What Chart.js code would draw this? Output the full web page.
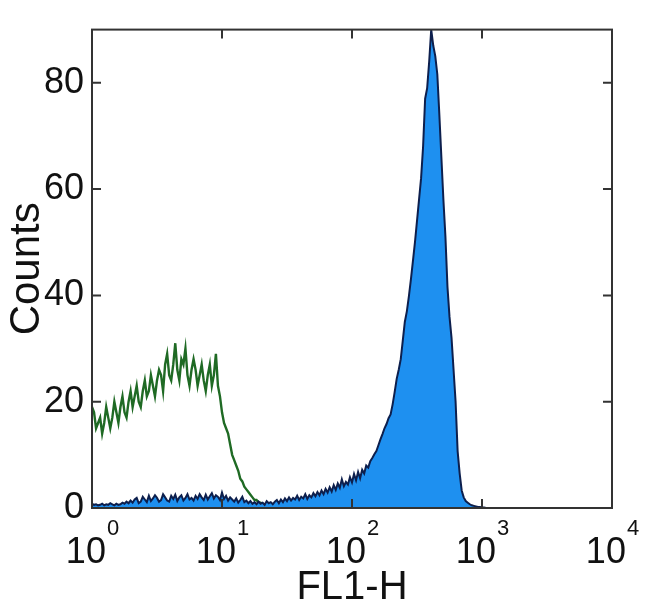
<!DOCTYPE html>
<html>
<head>
<meta charset="utf-8">
<script src="https://cdn.jsdelivr.net/npm/chart.js@4.4.1/dist/chart.umd.min.js"></script>
<style>
  body { margin: 0; background: #fff; }
</style>
</head>
<body>
<canvas id="chart" width="650" height="615"></canvas>
<script>
// FL1-H histogram, 256 log channels over 4 decades (64 channels per decade)
const CHANNELS = 256;
const decadeExponents = ['0', '1', '2', '3', '4'];
const countTicks = [0, 20, 40, 60, 80];

// isotype control (green outline), channels 0..89
const controlCounts = [
  19, 18, 15, 16, 17, 14, 16, 19, 17, 15,
  17, 20, 18, 16, 19, 21, 18, 17, 20, 22,
  19, 21, 23, 20, 19, 22, 24, 21, 22, 25,
  23, 21, 24, 26, 25, 22, 27, 29, 25, 24,
  27, 31, 26, 24, 28, 27, 30, 25, 23, 26,
  28, 26, 23, 25, 27, 24, 22, 25, 27, 23,
  25, 29, 23, 21, 18, 16, 15, 14, 12, 10,
  9, 8, 7, 5.5, 5, 4, 3.5, 3, 2.5, 2,
  1.5, 1.5, 1, 1, 0.8, 0.6, 0.5, 0.5, 0.4, 0.4
];

// stained sample (blue filled), channels 0..194
const sampleCounts = [
  0.8, 0.6, 0.7, 0.5, 0.6, 0.8, 0.5, 0.7, 0.6, 0.9,
  0.7, 0.5, 0.8, 0.6, 0.7, 1.0, 0.8, 1.2, 0.9, 1.4,
  1.0, 1.6, 1.9, 0.9, 1.2, 2.1, 1.6, 1.1, 2.3, 1.3,
  1.8, 2.4, 1.9, 1.2, 1.5, 2.6, 2.0, 1.4, 1.2, 2.3,
  1.7, 2.5, 1.3, 2.0, 2.4, 1.4, 1.9, 2.6, 1.6, 1.9,
  1.4, 2.3, 1.7, 2.6, 2.0, 1.5, 2.5, 1.6, 2.2, 2.8,
  1.8, 2.4, 2.1, 1.5, 2.9, 1.7, 2.3, 1.4, 2.0, 1.6,
  1.2, 1.8, 1.0, 1.5, 2.1, 1.1, 1.4, 0.9, 1.3, 0.8,
  1.1, 0.7, 1.2, 0.8, 1.0, 0.6, 1.3, 0.9, 1.1, 0.7,
  1.2, 1.5, 0.9, 1.6, 1.1, 1.8, 1.3, 2.0, 1.4, 1.9,
  1.6, 2.3, 1.5, 2.1, 1.8, 2.6, 1.7, 2.4, 2.0, 2.8,
  2.2, 3.0, 2.4, 3.3, 2.6, 3.6, 2.9, 3.9, 3.1, 4.3,
  3.4, 4.6, 3.8, 5.4, 4.1, 4.9, 4.4, 5.8, 4.8, 6.4,
  5.2, 6.8, 5.6, 7.2, 6.5, 8.0, 7.6, 8.8, 9.4, 10.1,
  10.7, 11.8, 12.9, 13.9, 15.0, 15.8, 16.9, 17.6, 19.5, 21.8,
  24.3, 26.0, 28.0, 31.5, 35.0, 37.0, 39.8, 43.0, 46.5, 50.0,
  54.0, 58.0, 62.0, 68.0, 77.0, 79.0, 84.0, 90.0, 87.0, 85.0,
  81.6, 74.0, 66.0, 58.0, 51.0, 41.6, 36.0, 32.0, 26.0, 20.0,
  10.7, 6.5, 3.3, 2.0, 1.3, 1.0, 0.7, 0.5, 0.4, 0.3,
  0.2, 0.2, 0.1, 0.1, 0
];

const toPoints = arr => arr.map((v, i) => ({ x: i, y: v }));

const FONT = "'Liberation Sans', Arial, Helvetica, sans-serif";
const INK = '#111';

// MATLAB-like box with inward ticks, and 10^n labels under the x axis
const boxPlugin = {
  id: 'box',
  afterDatasetsDraw(chart) {
    const { ctx, chartArea: a, scales: { x, y } } = chart;
    ctx.save();
    ctx.strokeStyle = '#333';
    ctx.lineWidth = 2;
    ctx.strokeRect(a.left, a.top, a.right - a.left, a.bottom - a.top);
    ctx.beginPath();
    const len = 9;
    x.ticks.forEach(t => {
      const px = x.getPixelForValue(t.value);
      ctx.moveTo(px, a.bottom); ctx.lineTo(px, a.bottom - len);
      ctx.moveTo(px, a.top); ctx.lineTo(px, a.top + len);
    });
    y.ticks.forEach(t => {
      const py = y.getPixelForValue(t.value);
      ctx.moveTo(a.left, py); ctx.lineTo(a.left + len, py);
      ctx.moveTo(a.right, py); ctx.lineTo(a.right - len, py);
    });
    ctx.stroke();
    ctx.restore();
  },
  afterDraw(chart) {
    const { ctx, chartArea: a, scales: { x } } = chart;
    ctx.save();
    ctx.fillStyle = INK;
    ctx.textBaseline = 'alphabetic';
    ctx.textAlign = 'left';
    x.ticks.forEach((t, i) => {
      const px = x.getPixelForValue(t.value);
      ctx.font = '36px ' + FONT;
      const base = ctx.measureText('10').width;
      ctx.font = '22px ' + FONT;
      const exp = decadeExponents[i];
      const sup = ctx.measureText(exp).width;
      const left = px - (base + sup) / 2;
      ctx.font = '36px ' + FONT;
      ctx.fillText('10', left, a.bottom + 55);
      ctx.font = '22px ' + FONT;
      ctx.fillText(exp, left + base + 1, a.bottom + 27);
    });
    ctx.restore();
  }
};

new Chart(document.getElementById('chart').getContext('2d'), {
  type: 'line',
  data: {
    datasets: [
      {
        label: 'Sample',
        data: toPoints(sampleCounts),
        borderColor: '#0d1f4d',
        borderWidth: 2,
        backgroundColor: '#1e90f0',
        fill: 'origin',
        pointRadius: 0,
        tension: 0
      },
      {
        label: 'Control',
        data: toPoints(controlCounts),
        borderColor: '#1f6a24',
        borderWidth: 2.4,
        fill: false,
        pointRadius: 0,
        tension: 0
      }
    ]
  },
  options: {
    responsive: false,
    animation: false,
    layout: { padding: { left: 0, top: 18, right: 38, bottom: 0 } },
    plugins: {
      legend: { display: false },
      tooltip: { enabled: false }
    },
    scales: {
      x: {
        type: 'linear',
        min: 0,
        max: CHANNELS,
        grid: { display: false, drawTicks: false },
        border: { display: false },
        ticks: { display: false },
        afterBuildTicks: s => { s.ticks = [0, 64, 128, 192, 256].map(v => ({ value: v })); },
        afterFit: s => { s.height = 107; },
        title: {
          display: true,
          text: 'FL1-H',
          color: INK,
          font: { family: FONT, size: 40 },
          padding: { top: 0, bottom: 3 }
        }
      },
      y: {
        min: 0,
        max: 90,
        grid: { display: false, drawTicks: false },
        border: { display: false },
        afterBuildTicks: s => { s.ticks = countTicks.map(v => ({ value: v })); },
        ticks: {
          color: INK,
          padding: 8,
          font: { family: FONT, size: 36 }
        },
        afterFit: s => { s.width = 92; },
        title: {
          display: true,
          text: 'Counts',
          color: INK,
          font: { family: FONT, size: 42 },
          padding: { top: 2, bottom: 0 }
        }
      }
    }
  },
  plugins: [boxPlugin]
});
</script>
</body>
</html>
